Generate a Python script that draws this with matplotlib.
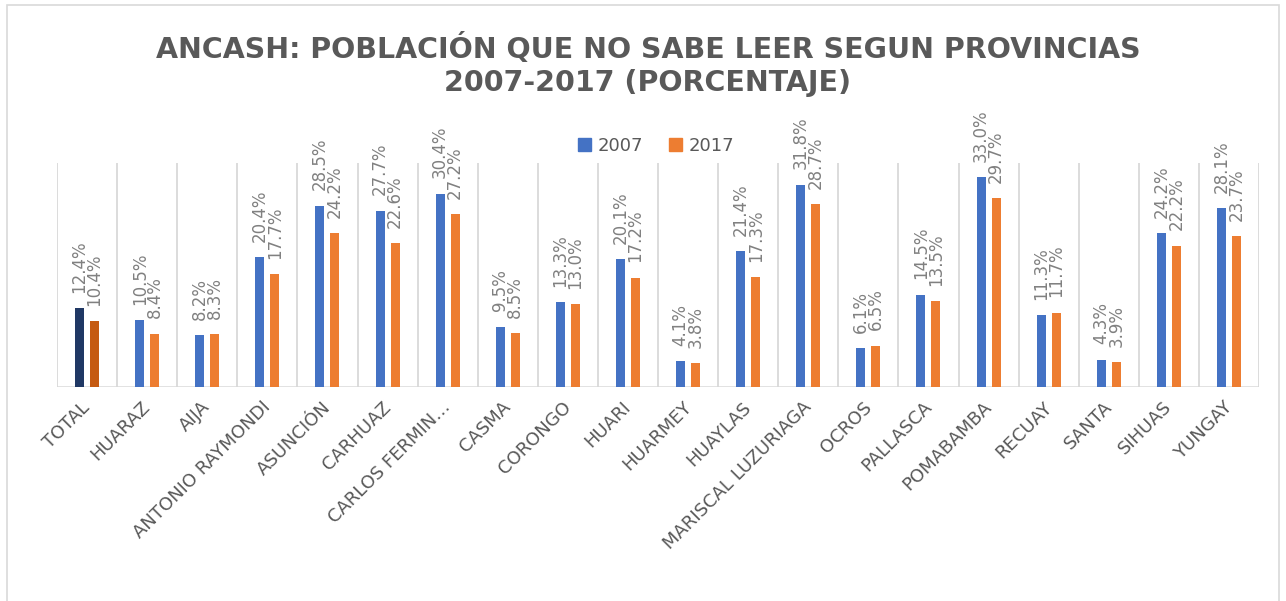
import numpy as np
import matplotlib.pyplot as plt
from matplotlib.patches import Rectangle
from matplotlib.transforms import ScaledTranslation

provincias = ["TOTAL", "HUARAZ", "AIJA", "ANTONIO RAYMONDI", "ASUNCIÓN", "CARHUAZ",
              "CARLOS FERMIN…", "CASMA", "CORONGO", "HUARI", "HUARMEY", "HUAYLAS",
              "MARISCAL LUZURIAGA", "OCROS", "PALLASCA", "POMABAMBA", "RECUAY",
              "SANTA", "SIHUAS", "YUNGAY"]
v2007 = [12.4, 10.5, 8.2, 20.4, 28.5, 27.7, 30.4, 9.5, 13.3, 20.1, 4.1, 21.4,
         31.8, 6.1, 14.5, 33.0, 11.3, 4.3, 24.2, 28.1]
v2017 = [10.4, 8.4, 8.3, 17.7, 24.2, 22.6, 27.2, 8.5, 13.0, 17.2, 3.8, 17.3,
         28.7, 6.5, 13.5, 29.7, 11.7, 3.9, 22.2, 23.7]
series = ["2007", "2017"]

azul, naranja = "#4472C4", "#ED7D31"
azul_total, naranja_total = "#203864", "#C55A11"
gris_grid = "#d9d9d9"
gris_texto = "#595959"
gris_label = "#808080"

fig = plt.figure(figsize=(12.86, 6.01), dpi=100)
fig.patches.append(Rectangle((7 / 1286, -0.05), 1272 / 1286, 1.05 - 5 / 601,
                             transform=fig.transFigure, fill=False,
                             edgecolor=gris_grid, lw=1.2))
ax = fig.add_axes([57 / 1286, 1 - 387 / 601, 1202 / 1286, 224 / 601])

x = np.arange(len(provincias))
w = 0.15
off = 0.125
# la barra TOTAL va en tonos oscuros
c07 = [azul_total] + [azul] * (len(x) - 1)
c17 = [naranja_total] + [naranja] * (len(x) - 1)
b1 = ax.bar(x - off, v2007, w, color=c07, label=series[0], zorder=3)
b2 = ax.bar(x + off, v2017, w, color=c17, label=series[1], zorder=3)

for bars in (b1, b2):
    for rect in bars:
        h = rect.get_height()
        ax.annotate("{0:.1f}%".format(h), (rect.get_x() + rect.get_width() / 2, h),
                    xytext=(0, 11), textcoords="offset points", rotation=90,
                    ha="center", va="bottom", fontsize=12, color=gris_label)

ax.set_xlim(-0.5, len(x) - 0.5)
ax.set_ylim(0, 35.2)
for b in np.arange(-0.5, len(x), 1.0):
    ax.axvline(b, color=gris_grid, lw=1.3, zorder=1)
ax.axhline(0, color=gris_grid, lw=1.8, zorder=2)

for s in ax.spines.values():
    s.set_visible(False)
ax.set_yticks([])
ax.set_xticks(x)
ax.set_xticklabels(provincias, rotation=45, ha="right", va="top", rotation_mode="anchor",
                   fontsize=13, color=gris_texto)
ax.tick_params(axis="x", length=0, pad=8)
shift = ScaledTranslation(-6 / 100, 0, fig.dpi_scale_trans)
for lab in ax.get_xticklabels():
    lab.set_transform(lab.get_transform() + shift)

h1 = Rectangle((0, 0), 1, 1, color=azul)
h2 = Rectangle((0, 0), 1, 1, color=naranja)
fig.legend([h1, h2], series, loc="center", bbox_to_anchor=(656 / 1286, 1 - 146 / 601),
           ncol=2, frameon=False, fontsize=13, handlelength=0.75, handleheight=0.75,
           handletextpad=0.35, columnspacing=1.4, labelcolor=gris_texto)

fig.text(648 / 1286, 1 - 48 / 601, "ANCASH: POBLACIÓN QUE NO SABE LEER SEGUN PROVINCIAS",
         ha="center", va="center", fontsize=20.5, fontweight="bold", color=gris_texto)
fig.text(648 / 1286, 1 - 83 / 601, "2007-2017 (PORCENTAJE)",
         ha="center", va="center", fontsize=20.5, fontweight="bold", color=gris_texto)

plt.savefig("out.png", dpi=100)
